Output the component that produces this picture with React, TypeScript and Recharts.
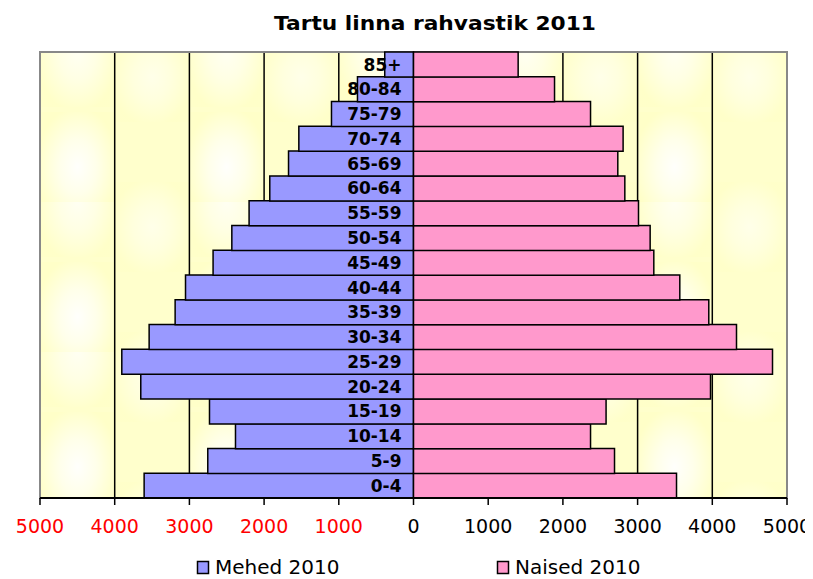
import React from 'react';
import { BarChart, Bar, XAxis, YAxis, CartesianGrid, LabelList, Legend, ReferenceArea } from 'recharts';

const ageGroups = ['0-4', '5-9', '10-14', '15-19', '20-24', '25-29', '30-34', '35-39', '40-44', '45-49', '50-54', '55-59', '60-64', '65-69', '70-74', '75-79', '80-84', '85+'];
const maleValues = [3606, 2754, 2383, 2731, 3651, 3905, 3539, 3191, 3052, 2683, 2432, 2201, 1924, 1673, 1535, 1098, 750, 385];
const femaleValues = [3521, 2691, 2370, 2578, 3976, 4806, 4324, 3953, 3565, 3217, 3168, 3012, 2829, 2735, 2806, 2370, 1888, 1401];
const xTicks = [-5000, -4000, -3000, -2000, -1000, 0, 1000, 2000, 3000, 4000, 5000];
const seriesNames = ['Mehed 2010', 'Naised 2010'];
const chartTitle = 'Tartu linna rahvastik 2011';

const data = ageGroups.map((age, i) => ({ age, male: -maleValues[i], female: femaleValues[i] }));

const MALE_COLOR = '#9999FF';
const FEMALE_COLOR = '#FF99CC';

const XTick = (props: any) => {
  const { x, y, payload } = props;
  const v = payload.value;
  return (
    <text x={x} y={y} dy={26} textAnchor="middle" fontFamily="DejaVu Sans" fontSize={19} fill={v < 0 ? '#FF0000' : '#000000'}>
      {Math.abs(v)}
    </text>
  );
};

const AgeLabel = (props: any) => {
  const { x, y, height, value } = props;
  return (
    <text x={x - 12} y={y + height / 2} dy={6} textAnchor="end" fontFamily="DejaVu Sans" fontWeight="bold" fontSize={17} fill="#000">
      {value}
    </text>
  );
};

const LegendContent = () => (
  <svg width={805} height={24} style={{ overflow: 'visible' }}>
    <rect x={189.5} y={6.5} width={11} height={12} fill={MALE_COLOR} stroke="#000" strokeWidth={1.5} />
    <text x={207} y={19} fontFamily="DejaVu Sans" fontSize={20} fill="#000">{seriesNames[0]}</text>
    <rect x={489.5} y={6.5} width={11} height={12} fill={FEMALE_COLOR} stroke="#000" strokeWidth={1.5} />
    <text x={507} y={19} fontFamily="DejaVu Sans" fontSize={20} fill="#000">{seriesNames[1]}</text>
  </svg>
);

export default function App() {
  return (
    <div style={{ position: 'relative', width: 805, height: 571 }}>
      <BarChart
        width={805}
        height={571}
        data={data}
        layout="vertical"
        stackOffset="sign"
        barCategoryGap={0}
        margin={{ top: 44, right: 26, left: 32, bottom: 17 }}
      >
        <defs>
          <radialGradient id="spot" cx="50%" cy="50%" r="55%">
            <stop offset="0%" stopColor="#FFFFFC" />
            <stop offset="45%" stopColor="#FFFFEA" />
            <stop offset="100%" stopColor="#FFFFC8" />
          </radialGradient>
          <pattern id="bgPattern" patternUnits="userSpaceOnUse" x={32} y={44} width={149.4} height={150}>
            <rect x={0} y={0} width={149.4} height={150} fill="#FFFFCC" />
            <rect x={0} y={60} width={74.7} height={110} fill="url(#spot)" />
            <rect x={74.7} y={-20} width={74.7} height={90} fill="url(#spot)" opacity={0.6} />
            <rect x={74.7} y={130} width={74.7} height={90} fill="url(#spot)" opacity={0.6} />
            <rect x={0} y={-55} width={74.7} height={110} fill="url(#spot)" opacity={0.8} />
          </pattern>
        </defs>
        <CartesianGrid horizontal={false} vertical={true} stroke="#000" strokeWidth={1.5} fill="url(#bgPattern)" fillOpacity={1} />
        <ReferenceArea x1={-5000} x2={5000} fill="none" stroke="#888888" strokeWidth={2} ifOverflow="visible" />
        <XAxis
          type="number"
          domain={[-5000, 5000]}
          ticks={xTicks}
          interval={0}
          tick={<XTick />}
          tickSize={7}
          axisLine={{ stroke: '#000', strokeWidth: 2 }}
          tickLine={{ stroke: '#000', strokeWidth: 1.5 }}
          height={40}
          allowDataOverflow
        />
        <YAxis type="category" dataKey="age" reversed hide />
        <Bar dataKey="male" stackId="a" fill={MALE_COLOR} stroke="#000" strokeWidth={1.5} isAnimationActive={false} />
        <Bar dataKey="female" stackId="a" fill={FEMALE_COLOR} stroke="#000" strokeWidth={1.5} isAnimationActive={false}>
          <LabelList dataKey="age" content={<AgeLabel />} />
        </Bar>
        <Legend
          verticalAlign="bottom"
          content={<LegendContent />}
          wrapperStyle={{ position: 'absolute', top: 547, bottom: 'auto', left: 0, width: 805, height: 24 }}
        />
      </BarChart>
      <svg width={805} height={40} style={{ position: 'absolute', top: 0, left: 0, pointerEvents: 'none' }}>
        <text x={427} y={22} textAnchor="middle" fontFamily="DejaVu Sans" fontWeight="bold" fontSize={20} textLength={322} lengthAdjust="spacingAndGlyphs">
          {chartTitle}
        </text>
      </svg>
    </div>
  );
}
